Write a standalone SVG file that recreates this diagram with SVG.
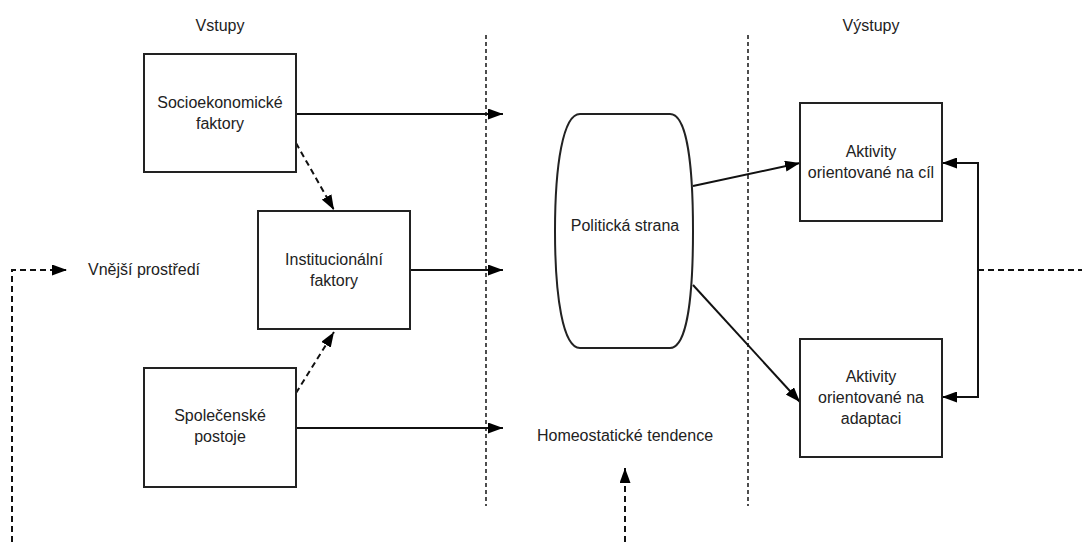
<svg xmlns="http://www.w3.org/2000/svg" width="1082" height="542" viewBox="0 0 1082 542">
<defs>
<marker id="ah" viewBox="0 0 15 11" refX="15" refY="5.5" markerWidth="15" markerHeight="11" markerUnits="userSpaceOnUse" orient="auto-start-reverse">
<path d="M0,0 L15,5.5 L0,11 Z" fill="#000"/>
</marker>
</defs>
<style>
.box{fill:#fff;stroke:#222;stroke-width:2}
.t{font-family:"Liberation Sans",Arial,sans-serif;font-size:16px;fill:#222;text-anchor:middle}
.c{fill:none;stroke:#111;stroke-width:2}
.d{fill:none;stroke:#111;stroke-width:2;stroke-dasharray:6,4}
.dot{fill:none;stroke:#222;stroke-width:1.6;stroke-dasharray:4,3}
</style>
<rect width="1082" height="542" fill="#fff"/>
<g id="labels">
<text class="t" x="220" y="31">Vstupy</text>
<text class="t" x="871" y="31">Výstupy</text>
</g>
<g id="separators">
<line class="dot" x1="486" y1="35" x2="486" y2="506"/>
<line class="dot" x1="748" y1="35" x2="748" y2="506"/>
</g>
<g id="connectors">
<line class="c" x1="296" y1="114" x2="503" y2="114" marker-end="url(#ah)"/>
<line class="c" x1="410" y1="270" x2="503" y2="270" marker-end="url(#ah)"/>
<line class="c" x1="296" y1="428" x2="503" y2="428" marker-end="url(#ah)"/>
<line class="d" x1="296" y1="143" x2="334" y2="210" marker-end="url(#ah)"/>
<line class="d" x1="296" y1="393" x2="334" y2="332" marker-end="url(#ah)"/>
<path class="d" d="M12,542 V270 H67" marker-end="url(#ah)"/>
<line class="d" x1="625" y1="542" x2="625" y2="468" marker-end="url(#ah)"/>
<line class="c" x1="693" y1="186" x2="800" y2="163" marker-end="url(#ah)"/>
<line class="c" x1="693" y1="285" x2="800" y2="402" marker-end="url(#ah)"/>
<path class="c" d="M942,163 H978 V397 H942" marker-start="url(#ah)" marker-end="url(#ah)"/>
<line class="d" x1="978" y1="270" x2="1082" y2="270"/>
</g>
<g id="socioekonomicke">
<rect class="box" x="144" y="54" width="152" height="118"/>
<text class="t" x="220" y="108">Socioekonomické</text>
<text class="t" x="220" y="129">faktory</text>
</g>
<g id="institucionalni">
<rect class="box" x="258" y="211" width="152" height="118"/>
<text class="t" x="334" y="265">Institucionální</text>
<text class="t" x="334" y="286">faktory</text>
</g>
<g id="spolecenske">
<rect class="box" x="144" y="368" width="152" height="119"/>
<text class="t" x="220" y="421">Společenské</text>
<text class="t" x="220" y="442">postoje</text>
</g>
<g id="vnejsi">
<text class="t" x="144" y="275">Vnější prostředí</text>
</g>
<g id="politicka">
<path class="box" d="M580,114 H670 C687,114 693,165 693,231 C693,297 687,348 670,348 H580 C563,348 555,297 555,231 C555,165 563,114 580,114 Z"/>
<text class="t" x="625" y="231">Politická strana</text>
</g>
<g id="homeostaticke">
<text class="t" x="625" y="441">Homeostatické tendence</text>
</g>
<g id="cil">
<rect class="box" x="800" y="103" width="142" height="118"/>
<text class="t" x="871" y="157">Aktivity</text>
<text class="t" x="871" y="178">orientované na cíl</text>
</g>
<g id="adaptace">
<rect class="box" x="800" y="339" width="142" height="118"/>
<text class="t" x="871" y="382">Aktivity</text>
<text class="t" x="871" y="403">orientované na</text>
<text class="t" x="871" y="424">adaptaci</text>
</g>
</svg>
